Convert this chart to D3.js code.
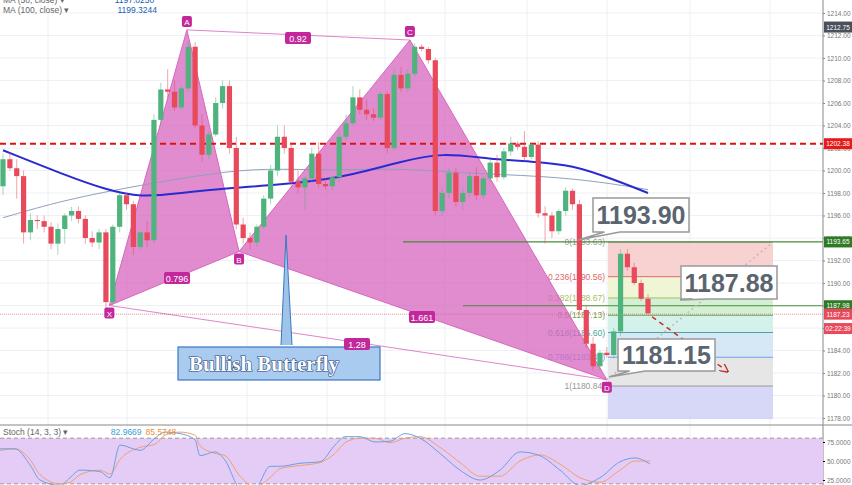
<!DOCTYPE html><html><head><meta charset="utf-8"><script src="https://cdn.jsdelivr.net/npm/d3@7"></script>
<style>body{margin:0;background:#fff}svg{font-family:"Liberation Sans",Arial,sans-serif}</style></head><body><svg id="c" width="852" height="485"></svg>
<script>
const candles=[[1198.6,1201.5,1197.8,1201.0],[1201.0,1201.6,1200.0,1200.2],[1200.2,1201.0,1197.5,1199.5],[1199.5,1200,1193.5,1194.5],[1194.5,1196.2,1193.8,1195.6],[1195.6,1196,1194.8,1195.5],[1195.5,1196,1194.5,1195.0],[1195.0,1195.4,1193,1193.5],[1193.5,1195.3,1192.5,1194.8],[1194.8,1196.2,1193.5,1196.0],[1196,1196.8,1195.5,1196.4],[1196.4,1196.8,1195.3,1195.7],[1195.7,1196,1193.5,1194.0],[1194,1194.6,1193.2,1193.6],[1193.6,1194.8,1193.0,1194.5],[1194.5,1194.8,1187.6,1188.3],[1188.3,1195.2,1188,1195.0],[1195,1198,1194.5,1197.8],[1197.8,1198,1196.5,1197.0],[1197,1197.3,1192.5,1193.2],[1193.2,1194.6,1193,1194.5],[1194.5,1195.5,1193.2,1193.8],[1193.8,1205,1193.5,1204.5],[1204.5,1207.8,1204,1207.2],[1207.2,1209,1206.5,1207.0],[1207,1208,1205.3,1205.6],[1205.6,1207.5,1205.4,1207.3],[1207.3,1211.5,1207,1211.0],[1211,1211.4,1203.8,1204.0],[1204,1205,1200.8,1201.4],[1201.4,1203.5,1201,1203.2],[1203.2,1206.5,1203,1206.0],[1206,1208,1205.5,1207.5],[1207.5,1208,1201.5,1202.0],[1202,1203,1194.8,1195.2],[1195.2,1195.8,1193.5,1194.0],[1194,1194.5,1193,1193.6],[1193.6,1195.2,1193.2,1195.0],[1195,1197.8,1194.8,1197.5],[1197.5,1200.5,1197,1200.0],[1200,1204,1199.5,1203.0],[1203,1204,1201.5,1202.0],[1202,1202.5,1198.5,1199.0],[1199,1200,1198,1198.5],[1198.5,1199.5,1196.5,1199.3],[1199.3,1202,1199,1201.5],[1201.5,1202.5,1198.5,1198.8],[1198.8,1199.3,1198.3,1198.6],[1198.6,1199.5,1198.3,1199.4],[1199.4,1203.5,1199,1203.0],[1203,1205,1202.6,1204.2],[1204.2,1207.5,1204,1206.5],[1206.5,1207.2,1205,1205.4],[1205.4,1206.3,1204.5,1205.0],[1205,1205.5,1204.4,1204.7],[1204.7,1207,1204.5,1206.8],[1206.8,1207,1201.5,1202.0],[1202,1209,1201.8,1208.5],[1208.5,1209.2,1207,1207.3],[1207.3,1209,1207,1208.6],[1208.6,1211.3,1208.3,1211.0],[1211,1211.2,1210.6,1210.8],[1210.8,1211,1209.5,1209.8],[1209.8,1210,1196,1196.4],[1196.4,1198.5,1196,1198.0],[1198,1200.2,1197.5,1199.8],[1199.8,1200.2,1196.8,1197.2],[1197.2,1198.5,1196.5,1198.0],[1198,1199.8,1197.6,1199.5],[1199.5,1200.3,1197.4,1197.8],[1197.8,1199.5,1197.5,1199.3],[1199.3,1201,1199,1200.7],[1200.7,1201.4,1199,1199.4],[1199.4,1202,1199.2,1201.7],[1201.7,1203,1201.3,1202.4],[1202.4,1202.6,1201.8,1202.1],[1202.1,1203.5,1200.8,1201.2],[1201.2,1202.5,1201,1202.3],[1202.3,1202.6,1195.8,1196.2],[1196.2,1196.8,1193.5,1196.0],[1196,1196.3,1194,1194.6],[1194.6,1196.6,1194.3,1196.4],[1196.4,1198.5,1196,1198.2],[1198.2,1198.4,1196.5,1197.0],[1197,1197.4,1187.2,1187.6],[1187.6,1188,1184.2,1184.6],[1184.6,1185.2,1182.2,1182.6],[1182.6,1184,1182.2,1183.8],[1183.8,1184.3,1183.4,1183.6],[1183.6,1186,1183.3,1185.7],[1185.7,1193,1185.3,1192.6],[1192.6,1193,1191.1,1191.4],[1191.4,1191.8,1189.8,1190.0],[1190,1190.3,1188.4,1188.6],[1188.6,1189,1187.2,1187.3]];
const maFastIdx=[0,9,15,20,26,32,44,51,58,64,71,77,83,89,94];
const maFastVal=[1201.8,1199.6,1198.3,1197.6,1198.0,1198.4,1198.9,1199.6,1200.8,1201.6,1201.0,1200.8,1200.5,1199.2,1198.0];
const maSlowIdx=[0,9,20,31,38,48,58,66,79,87,94];
const maSlowVal=[1195.8,1197.4,1198.7,1199.8,1200.2,1200.0,1200.2,1199.8,1199.5,1199.0,1198.3];
const priceTicks=[1214,1212,1210,1208,1206,1204,1202,1200,1198,1196,1194,1192,1190,1188,1186,1184,1182,1180,1178];
const stochX=[0,15,30,40,60,70,80,100,110,120,140,155,165,180,195,200,215,225,240,255,270,280,300,320,335,345,360,375,390,405,420,440,460,480,500,520,540,560,580,600,620,635,650];
const stochK=[66,66,45,25,18,28,38,36,28,71,64,80,88,86,78,57,62,51,15,14,43,43,47,49,71,82,82,75,76,86,80,60,38,25,38,62,57,38,18,28,49,54,46];
const stochD=[64,66,52,32,20,22,32,38,33,52,68,72,84,88,84,70,60,57,30,16,28,40,44,48,60,74,80,80,74,80,82,68,48,30,30,50,58,46,28,22,38,50,50];
const pattern=[{n:"X",i:15.5,p:1188.0},{n:"A",i:26.8,p:1212.5},{n:"B",i:34.4,p:1192.8},{n:"C",i:59.3,p:1211.6},{n:"D",i:88.0,p:1181.4}];
const fibLevels=[0,0.236,0.382,0.5,0.618,0.786,1];
const fibPrices=[1193.63,1190.56,1188.67,1187.13,1185.60,1183.40,1180.84];
const fibColors=["#f7c9c9","#edf3cf","#cbeccd","#cdeee8","#cfe4f5","#e2e2e2","#d0d0f7"];
const fibLine=["#9e9e9e","#e06666","#a4c163","#6aa84f","#45a5a0","#6d9eeb","#999"];

const svg=d3.select("#c");
const W=823, xs=d3.scaleLinear().domain([0,94]).range([3,648]);
const y=d3.scaleLinear().domain([1178,1214]).range([418,13]);
const ys=d3.scaleLinear().domain([0,100]).range([499,423]);
const g=svg.append("g");
[48,127,247,327,385,445,527,607,690,770].forEach(x=>g.append("line").attr("x1",x).attr("x2",x).attr("y1",0).attr("y2",485).attr("stroke","#eef0f3"));
priceTicks.forEach(t=>g.append("line").attr("x1",0).attr("x2",W).attr("y1",y(t)).attr("y2",y(t)).attr("stroke","#eef0f3"));
const fx0=608,fx1=773;
for(let k=0;k<fibPrices.length;k++){const p0=fibPrices[k],p1=k<fibPrices.length-1?fibPrices[k+1]:1177.9;
 g.append("rect").attr("x",fx0).attr("width",fx1-fx0).attr("y",y(p0)).attr("height",y(p1)-y(p0)).attr("fill",fibColors[k]).attr("opacity",0.85);}
fibPrices.forEach((p,k)=>{g.append("line").attr("x1",fx0).attr("x2",fx1).attr("y1",y(p)).attr("y2",y(p)).attr("stroke",fibLine[k]).attr("stroke-width",1);
 g.append("text").attr("x",fx0-3).attr("y",y(p)+3).attr("text-anchor","end").attr("font-size",8.5).attr("fill",fibLine[k]).text(fibLevels[k]+"("+p.toFixed(2)+")");});
const P=pattern.map(d=>[xs(d.i),y(d.p)]);
const pc="#d766be";
[[0,1,2],[2,3,4]].forEach(t=>g.append("path").attr("d","M"+t.map(i=>P[i].join(",")).join("L")+"Z").attr("fill",pc).attr("fill-opacity",0.75).attr("stroke",pc));
[[0,4],[1,3]].forEach(([a,b])=>g.append("line").attr("x1",P[a][0]).attr("y1",P[a][1]).attr("x2",P[b][0]).attr("y2",P[b][1]).attr("stroke",pc).attr("stroke-width",0.8));
g.append("line").attr("x1",0).attr("x2",W).attr("y1",y(1202.38)).attr("y2",y(1202.38)).attr("stroke","#e01010").attr("stroke-width",2.2).attr("stroke-dasharray","6,4");
g.append("line").attr("x1",0).attr("x2",W).attr("y1",y(1187.23)).attr("y2",y(1187.23)).attr("stroke","#e06070").attr("stroke-width",0.7).attr("stroke-dasharray","1,1");
g.append("line").attr("x1",403).attr("x2",W).attr("y1",y(1193.65)).attr("y2",y(1193.65)).attr("stroke","#4a8a3a").attr("stroke-width",1.2);
g.append("line").attr("x1",463).attr("x2",W).attr("y1",y(1187.98)).attr("y2",y(1187.98)).attr("stroke","#4a8a3a").attr("stroke-width",1.2);
const ln=d3.line().curve(d3.curveBasis);
g.append("path").attr("d",ln(maSlowIdx.map((i,k)=>[xs(i),y(maSlowVal[k])]))).attr("fill","none").attr("stroke","#8f9fbf").attr("stroke-width",1);
g.append("path").attr("d",ln(maFastIdx.map((i,k)=>[xs(i),y(maFastVal[k])]))).attr("fill","none").attr("stroke","#2a2ad0").attr("stroke-width",2);
candles.forEach((c,i)=>{const [o,h,l,cl]=c,up=cl>=o,col=up?"#4fb37e":"#e8495b",x=xs(i);
 g.append("line").attr("x1",x).attr("x2",x).attr("y1",y(h)).attr("y2",y(l)).attr("stroke",col).attr("stroke-opacity",0.5);
 g.append("rect").attr("x",x-2.6).attr("width",5.2).attr("y",y(Math.max(o,cl))).attr("height",Math.max(1,Math.abs(y(o)-y(cl)))).attr("fill",col);});
g.append("line").attr("x1",P[4][0]).attr("y1",P[4][1]).attr("x2",fx1).attr("y2",y(1193.63)).attr("stroke","#bbb").attr("stroke-dasharray","2,3").attr("stroke-width",1.5);
svg.append("defs").append("marker").attr("id","ar").attr("viewBox","0 0 10 10").attr("refX",5).attr("refY",5).attr("markerWidth",6).attr("markerHeight",6).attr("orient","auto").append("path").attr("d","M0,0L10,5L0,10").attr("fill","none").attr("stroke","#c0302f").attr("stroke-width",1.5);
g.append("line").attr("x1",652).attr("y1",y(1187.0)).attr("x2",725).attr("y2",y(1182.3)).attr("stroke","#c0302f").attr("stroke-width",1.5).attr("stroke-dasharray","5,4").attr("marker-end","url(#ar)");
g.append("path").attr("d","M281,345L286,235L292,345").attr("fill","#9fc4ea").attr("stroke","#3a78c0");
g.append("rect").attr("x",178).attr("y",347).attr("width",202).attr("height",33).attr("fill","#a9cbf0").attr("stroke","#3a78c0").attr("stroke-width",1.2);
g.append("text").attr("x",264).attr("y",371).attr("text-anchor","middle").attr("font-family","Liberation Serif,serif").attr("font-size",21).attr("font-weight","bold").attr("fill","#fff").attr("stroke","#1e3f78").attr("stroke-width",1.2).attr("paint-order","stroke").text("Bullish Butterfly");
pattern.forEach((d,k)=>{const ly=d.n==="A"||d.n==="C"?P[k][1]-8:P[k][1]+8;
 g.append("rect").attr("x",P[k][0]-5).attr("y",ly-6).attr("width",10).attr("height",11).attr("rx",2).attr("fill","#c2289c");
 g.append("text").attr("x",P[k][0]).attr("y",ly+3).attr("text-anchor","middle").attr("font-size",8).attr("fill","#fff").text(d.n);});
[["0.92",298,38],["0.796",177,278],["1.661",422,317],["1.28",357,344]].forEach(([t,x,yy])=>{
 g.append("rect").attr("x",x-13).attr("y",yy-6).attr("width",26).attr("height",12).attr("rx",2).attr("fill","#c2289c");
 g.append("text").attr("x",x).attr("y",yy+3.5).attr("text-anchor","middle").attr("font-size",9).attr("fill","#fff").text(t);});
function callout(x,yy,w,h,tx,ty,t){g.append("path").attr("d",`M${x},${yy}h${w}v${h}h-${w*0.72}L${tx},${ty}L${x+w*0.12},${yy+h}H${x}Z`).attr("fill","#fff").attr("stroke","#999").attr("stroke-width",1.5);
 g.append("text").attr("x",x+w/2).attr("y",yy+h/2+9).attr("text-anchor","middle").attr("font-size",25).attr("font-weight","bold").attr("fill","#5a6570").text(t);}
callout(593,198,96,34,578,240,"1193.90");
callout(681,266,96,33,680,300,"1187.88");
callout(618,339,97,32,609,377,"1181.15");
g.append("rect").attr("x",W).attr("y",0).attr("width",852-W).attr("height",485).attr("fill","#fff");
g.append("line").attr("x1",W).attr("x2",W).attr("y1",0).attr("y2",485).attr("stroke","#888");
const ax=svg.append("g").attr("transform",`translate(${W},0)`).call(d3.axisRight(y).tickValues(priceTicks).tickFormat(d3.format(".2f")).tickSize(2).tickPadding(2));
ax.select(".domain").remove();ax.selectAll("text").attr("font-size",6.5).attr("fill","#777");ax.selectAll("line").attr("stroke","#888");
[[1212.75,"#4a4f5a","1212.75"],[1202.38,"#e51b1b","1202.38"],[1193.65,"#2f7a25","1193.65"],[1187.98,"#2f7a25","1187.98"],[1187.23,"#e8495b","1187.23"],[1185.95,"#e8495b","02:22:39"]].forEach(([p,c,t])=>{
 svg.append("rect").attr("x",W+1).attr("y",y(p)-5.5).attr("width",28).attr("height",11).attr("fill",c);
 svg.append("text").attr("x",W+15).attr("y",y(p)+2.5).attr("text-anchor","middle").attr("font-size",6.5).attr("fill","#fff").text(t);});
svg.append("line").attr("x1",0).attr("x2",852).attr("y1",425).attr("y2",425).attr("stroke","#888");
svg.append("rect").attr("x",0).attr("y",ys(80)).attr("width",W).attr("height",ys(20)-ys(80)).attr("fill","#e5ccf7");
[80,20].forEach(v=>svg.append("line").attr("x1",0).attr("x2",W).attr("y1",ys(v)).attr("y2",ys(v)).attr("stroke","#999").attr("stroke-dasharray","4,3"));
const sl=d3.line().curve(d3.curveMonotoneX);
svg.append("path").attr("d",sl(stochX.map((x,k)=>[x,ys(stochD[k])]))).attr("fill","none").attr("stroke","#f0a070").attr("stroke-width",1);
svg.append("path").attr("d",sl(stochX.map((x,k)=>[x,ys(stochK[k])]))).attr("fill","none").attr("stroke","#6aa0e0").attr("stroke-width",1);
const sa=svg.append("g").attr("transform",`translate(${W},0)`).call(d3.axisRight(ys).tickValues([75,50,25]).tickFormat(d3.format(".4f")).tickSize(2).tickPadding(2));
sa.select(".domain").remove();sa.selectAll("text").attr("font-size",6.5).attr("fill","#777");
const lg=svg.append("text").attr("x",3).attr("y",435).attr("font-size",8.5).attr("fill","#666");
lg.append("tspan").text("Stoch (14, 3, 3) ▾ ");lg.append("tspan").attr("dx",40).attr("fill","#3aa0d8").text("82.9669");lg.append("tspan").attr("dx",4).attr("fill","#e89030").text("85.5748");
const l2=svg.append("text").attr("x",3).attr("y",13).attr("font-size",8.5).attr("fill","#666");
l2.append("tspan").text("MA (100, close) ▾");l2.append("tspan").attr("dx",48).attr("fill","#2060b0").text("1199.3244");
const l1=svg.append("text").attr("x",3).attr("y",3).attr("font-size",8.5).attr("fill","#666");
l1.append("tspan").text("MA (50, close) ▾");l1.append("tspan").attr("dx",50).attr("fill","#2060b0").text("1197.0250");
</script></body></html>
